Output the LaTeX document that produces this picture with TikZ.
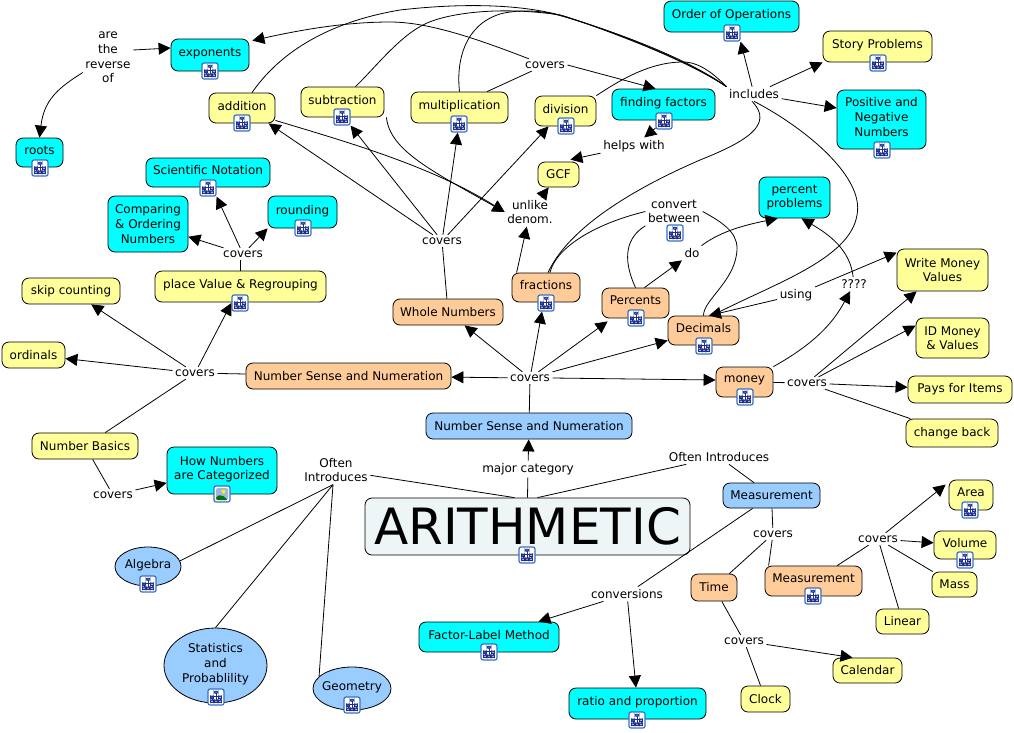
\documentclass[tikz,border=0pt]{standalone}
\usepackage{fontspec}
\setmainfont{DejaVu Sans}
\usetikzlibrary{arrows.meta,shapes.geometric}
\definecolor{cyanc}{HTML}{00FFFF}
\definecolor{yellowc}{HTML}{FFFF99}
\definecolor{orangec}{HTML}{FFCC99}
\definecolor{bluec}{HTML}{99CCFF}
\definecolor{palec}{HTML}{EEF5F7}
\definecolor{iconc}{HTML}{3A6FC4}
\definecolor{treec}{HTML}{1F2F8F}
\tikzset{
    txt/.style = {font=\fontsize{12}{14.6}\selectfont, align=center},
    main/.style 2 args = {txt, draw, rounded corners=7pt, inner sep=0pt, line width=0.8pt, minimum width=#1pt, minimum height=#2pt},
    cy/.style 2 args = {main={#1}{#2}, fill=cyanc},
    ye/.style 2 args = {main={#1}{#2}, fill=yellowc},
    or/.style 2 args = {main={#1}{#2}, fill=orangec},
    bl/.style 2 args = {main={#1}{#2}, fill=bluec},
    oval/.style 2 args = {txt, draw, ellipse, fill=bluec, inner sep=-8pt, line width=0.8pt, minimum width=#1pt, minimum height=#2pt},
    up/.style = {text depth=5pt},
    phrase/.style = {txt, inner sep=2.5pt},
    tree/.style = {draw, rounded corners=2pt, fill=white, draw=iconc, line width=1.2pt, minimum size=16pt, inner sep=0pt,
        path picture={
            \draw[treec, line width=0.7pt] (path picture bounding box.center) ++(0,-4) -- ++(0,8) ++(-4,-5) -- ++(8,0) ++(-8,0) -- ++(0,5) ++(8,-5) -- ++(0,5);
            \draw[treec, fill=iconc, line width=0.6pt] (path picture bounding box.center) ++(-2,-6) rectangle ++(4,2.5);
            \draw[treec, fill=iconc, line width=0.6pt] (path picture bounding box.center) ++(-5.5,-1) rectangle ++(3,2.5);
            \draw[treec, fill=white, line width=0.6pt] (path picture bounding box.center) ++(2.5,-1) rectangle ++(3,2.5);
            \draw[treec, fill=white, line width=0.6pt] (path picture bounding box.center) ++(-5.5,3) rectangle ++(3,2.5);
            \draw[treec, fill=white, line width=0.6pt] (path picture bounding box.center) ++(2.5,3) rectangle ++(3,2.5);
            \draw[treec, fill=orangec, line width=0.6pt] (path picture bounding box.center) ++(-1.5,3) rectangle ++(3,2.5);
        }},
    photo/.style = {draw, rounded corners=2pt, fill=white, draw=iconc, line width=1.2pt, minimum size=16pt, inner sep=0pt,
        path picture={
            \fill[iconc!50] (path picture bounding box.center) ++(-6,-6) rectangle ++(12,12);
            \fill[yellow] (path picture bounding box.center) ++(1.5,-2.5) circle (2);
            \fill[green!45!black] (path picture bounding box.center) ++(-6,6) -- ++(0,-4) -- ++(6,-1) -- ++(6,5) -- cycle;
        }},
    link/.style = {line width=0.8pt},
    arr/.style = {link, -{Triangle[length=12pt,width=12pt]}}
}
\begin{document}
\begin{tikzpicture}[x=1pt, y=-1pt]
        \useasboundingbox (0,0) rectangle (1014,732);

        \node[cy={78}{32},up] (exponents) at (210,55) {exponents};
        \node[ye={66}{30},up] (addition) at (242,108) {addition};
        \node[ye={83}{30},up] (subtraction) at (342.5,102) {subtraction};
        \node[ye={97}{31},up] (multiplication) at (459.5,107.5) {multiplication};
        \node[ye={61}{30},up] (division) at (565.5,111) {division};
        \node[cy={103}{31},up] (factors) at (663.5,104.5) {finding factors};
        \node[cy={135}{31},up] (operations) at (731.5,16.5) {Order of Operations};
        \node[ye={109}{31},up] (story) at (877.5,46.5) {Story Problems};
        \node[cy={89}{59},up] (positive) at (881.5,119.5) {Positive and\\Negative\\Numbers};
        \node[cy={47}{29},up] (roots) at (39.5,152.5) {roots};
        \node[cy={124}{29},up] (scientific) at (208,172.5) {Scientific Notation};
        \node[cy={80}{56}] (comparing) at (148,224) {Comparing\\\& Ordering\\Numbers};
        \node[cy={69}{32},up] (rounding) at (302.5,212) {rounding};
        \node[ye={41}{25}] (gcf) at (558.5,174.5) {GCF};
        \node[cy={71}{41}] (percentprob) at (794.5,197.5) {percent\\problems};
        \node[ye={171}{31},up] (placevalue) at (240.5,286.5) {place Value \& Regrouping};
        \node[ye={98}{26}] (skip) at (71,291) {skip counting};
        \node[ye={63}{26}] (ordinals) at (33.5,355) {ordinals};
        \node[ye={106}{26}] (basics) at (85,446) {Number Basics};
        \node[cy={110}{47},up] (categorized) at (222,470.5) {How Numbers\\are Categorized};

        \node[or={110}{26}] (whole) at (448,312) {Whole Numbers};
        \node[or={68}{29},up] (fractions) at (546,287.5) {fractions};
        \node[or={67}{30},up] (percents) at (635.5,303) {Percents};
        \node[or={71}{29},up] (decimals) at (703.5,330.5) {Decimals};
        \node[or={57}{30},up] (money) at (744.5,382) {money};
        \node[or={205}{26}] (senseorange) at (348.5,376) {Number Sense and Numeration};

        \node[ye={91}{42}] (writemoney) at (942.5,270) {Write Money\\Values};
        \node[ye={73}{40}] (idmoney) at (952.5,338) {ID Money\\\& Values};
        \node[ye={104}{27}] (pays) at (960,389.5) {Pays for Items};
        \node[ye={92}{28}] (changeback) at (952,433) {change back};

        \node[bl={206}{26}] (senseblue) at (529,426) {Number Sense and Numeration};
        \node[main={325}{57}, fill=palec, font=\fontsize{50}{56}\selectfont] (arithmetic) at (527.5,526.5) {ARITHMETIC};
        \node[bl={97}{25}] (measureblue) at (771.5,495.5) {Measurement};
        \node[or={97}{30},up] (measureorange) at (813.5,581) {Measurement};
        \node[or={46}{27}] (time) at (714,587.5) {Time};
        \node[ye={44}{30},up] (area) at (971,495) {Area};
        \node[ye={62}{28},up] (volume) at (965,545) {Volume};
        \node[ye={45}{25}] (mass) at (954.5,584.5) {Mass};
        \node[ye={53}{25}] (linear) at (902.5,621.5) {Linear};
        \node[ye={69}{25}] (calendar) at (867.5,670.5) {Calendar};
        \node[ye={49}{26}] (clock) at (765.5,699) {Clock};
        \node[cy={140}{30},up] (factorlabel) at (489,637) {Factor-Label Method};
        \node[cy={137}{31},up] (ratio) at (637.5,703.5) {ratio and proportion};

        \node[oval={66}{39},up] (algebra) at (148,566.5) {Algebra};
        \node[oval={103}{75},up] (statistics) at (215.5,665.5) {Statistics\\and\\Probablility};
        \node[oval={78}{43},up] (geometry) at (352,688.5) {Geometry};

        \node[tree] (iexponents) at (210,71) {};
        \node[tree] (iaddition) at (242,123) {};
        \node[tree] (isubtraction) at (342,117) {};
        \node[tree] (imultiplication) at (459,124) {};
        \node[tree] (idivision) at (566,126) {};
        \node[tree] (ifactors) at (664,121) {};
        \node[tree] (ioperations) at (732,33) {};
        \node[tree] (istory) at (878,63) {};
        \node[tree] (ipositive) at (882,150) {};
        \node[tree] (iroots) at (40,168) {};
        \node[tree] (iscientific) at (208,188) {};
        \node[tree] (irounding) at (303,228) {};
        \node[tree] (iplacevalue) at (240,303) {};
        \node[tree] (ifractions) at (546,303) {};
        \node[tree] (ipercents) at (636,318) {};
        \node[tree] (idecimals) at (704,346) {};
        \node[tree] (imoney) at (745,397) {};
        \node[tree] (iarithmetic) at (527,555) {};
        \node[tree] (imeasure) at (813,596) {};
        \node[tree] (iarea) at (970,510) {};
        \node[tree] (ivolume) at (965,560) {};
        \node[tree] (ifactorlabel) at (489,652) {};
        \node[tree] (iratio) at (637,720) {};
        \node[tree] (ialgebra) at (148,584) {};
        \node[tree] (istatistics) at (216,697) {};
        \node[tree] (igeometry) at (352,705) {};
        \node[photo] (icategorized) at (222,494) {};

        \node[phrase] (reverse) at (108,57.5) {are\\the\\reverse\\of};
        \node[phrase] (coverstop) at (545,65) {covers};
        \node[phrase] (includes) at (754,94) {includes};
        \node[phrase] (helps) at (634,146) {helps with};
        \node[phrase] (unlike) at (530,212) {unlike\\denom.};
        \node[phrase] (between) at (674,211.5) {convert\\between};
        \node[tree] (ibetween) at (675,233) {};
        \node[phrase] (do) at (692,253) {do};
        \node[phrase] (using) at (796,295) {using};
        \node[phrase] (question) at (854,284) {????};
        \node[phrase] (coversplace) at (243,254) {covers};
        \node[phrase] (coverswhole) at (442,241) {covers};
        \node[phrase] (coversleft) at (195,373) {covers};
        \node[phrase] (coverscenter) at (530,378) {covers};
        \node[phrase] (coversmoney) at (807,383) {covers};
        \node[phrase] (coversbasics) at (113,495) {covers};
        \node[phrase] (oftenleft) at (336,470) {Often\\Introduces};
        \node[phrase] (major) at (528,469) {major category};
        \node[phrase] (oftenright) at (719,457) {Often Introduces};
        \node[phrase] (coversmeasure) at (773,534) {covers};
        \node[phrase] (coversright) at (878,539) {covers};
        \node[phrase] (conversions) at (627,594) {conversions};
        \node[phrase] (coverstime) at (744,641) {covers};

        \draw[arr] (reverse.east |- 0,50) -- (exponents.west |- 0,48);
        \draw[arr] ([yshift=13pt]reverse.south west) .. controls (58,88) and (44,100) .. (roots.north);

        \draw[link] ([xshift=10pt]addition.north) .. controls (285,45) and (340,20) .. (400,10) .. controls (470,2) and (530,5) .. (570,18) .. controls (620,35) and (690,62) .. (includes.north west);
        \draw[link] ([xshift=13pt]subtraction.north) .. controls (375,68) and (400,35) .. (427,23) .. controls (450,13) and (500,6) .. (560,15) .. controls (620,33) and (690,62) .. (includes.north west);
        \draw[link] (multiplication.north) .. controls (456,60) and (465,25) .. (500,14) .. controls (515,10) and (540,9) .. (565,17) .. controls (620,33) and (690,60) .. (includes.north west);
        \draw[link] (division.north east) .. controls (620,80) and (650,62) .. (683,62) .. controls (700,62) and (715,75) .. (includes.north west);
        \draw[link] (includes.255) .. controls (775,125) and (745,142) .. (700,160) .. controls (640,186) and (570,225) .. ([xshift=2pt]fractions.north);
        \draw[link] (includes.south) .. controls (800,125) and (865,175) .. (857,215) .. controls (850,260) and (770,285) .. (decimals.60);
        \draw[arr] (includes) -- (ioperations.south east);
        \draw[arr] (includes) -- (story.south west);
        \draw[arr] (includes) -- (positive.west |- 0,108);

        \draw[link] (multiplication.30) -- (coverstop);
        \draw[arr] (coverstop) .. controls (480,40) and (430,22) .. (390,22) .. controls (345,22) and (300,30) .. ([xshift=3pt,yshift=-2pt]exponents.north east);
        \draw[arr] (coverstop.east) -- ([xshift=-8pt]factors.north);
        \draw[arr] (ifactors) -- (helps);
        \draw[arr] (helps) -- ([xshift=-9pt,yshift=2pt]gcf.north east);

        \draw[link] (whole) -- (coverswhole);
        \draw[arr] (coverswhole) -- (addition.-30);
        \draw[arr] (coverswhole) -- (isubtraction.south east);
        \draw[arr] (coverswhole) -- (imultiplication);
        \draw[arr] (coverswhole) -- ([xshift=-17pt]division.south);

        \draw[arr] ([yshift=3pt]addition.south east) .. controls (340,140) and (430,165) .. (unlike.west);
        \draw[arr] ([xshift=2pt]subtraction.south east) .. controls (390,150) and (430,170) .. (unlike.west);
        \draw[arr] ([xshift=5pt]fractions.north west) -- (unlike);
        \draw[arr] (unlike) -- (gcf);

        \draw[link] ([xshift=4pt]fractions.north) .. controls (555,250) and (590,225) .. (between.west);
        \draw[link] (percents.north) .. controls (625,265) and (622,240) .. (between.south west);
        \draw[link] (decimals.north) .. controls (703,300) and (737,280) .. (737,248) .. controls (737,232) and (722,222) .. (between.east);
        \draw[arr] (percents.60) -- (do);
        \draw[arr] (do) .. controls (722,230) and (750,224) .. ([xshift=19pt]percentprob.south west);
        \draw[arr] (using) -- (decimals.70);
        \draw[arr] (using) -- ([yshift=-4pt]writemoney.north west);
        \draw[arr] (money.north east) .. controls (812,345) and (832,325) .. (question);
        \draw[arr] (question) .. controls (850,250) and (830,235) .. ([xshift=7pt]percentprob.south);

        \draw[link] (senseblue) -- (coverscenter);
        \draw[arr] (coverscenter) -- ([xshift=-4pt]ifractions.south);
        \draw[arr] (coverscenter) -- (whole);
        \draw[arr] (coverscenter) -- (senseorange);
        \draw[arr] (coverscenter) -- ([xshift=6pt,yshift=-3pt]percents.south west);
        \draw[arr] (coverscenter) -- ([yshift=-10pt]decimals.west);
        \draw[arr] (coverscenter.east) -- ([yshift=2pt]money.west);
        \draw[link] (money) -- (coversmoney);
        \draw[arr] (coversmoney) -- ([xshift=20pt]writemoney.south west);
        \draw[arr] (coversmoney) -- ([yshift=-8pt]idmoney.north west);
        \draw[arr] (coversmoney) -- (pays);
        \draw[link] (coversmoney) -- (changeback);

        \draw[link] (placevalue.north |- coversplace.south) -- (placevalue);
        \draw[arr] (coversplace) -- (iscientific.south east);
        \draw[arr] (coversplace) -- (comparing);
        \draw[arr] (coversplace) -- (rounding.south west);

        \draw[link] (senseorange) -- (coversleft);
        \draw[arr] (coversleft) -- (iplacevalue.west);
        \draw[arr] (coversleft) -- (skip);
        \draw[arr] (coversleft) -- (ordinals);
        \draw[link] (basics) -- (coversleft);
        \draw[link] (basics) -- (coversbasics);
        \draw[arr] (coversbasics) -- (categorized);

        \draw[link] (arithmetic.north) ++(-13,0) -- (oftenleft);
        \draw[link] ([xshift=-3pt]oftenleft.south) -- (algebra.10);
        \draw[link] ([xshift=-3pt]oftenleft.south) -- (statistics.north);
        \draw[link] ([xshift=-3pt]oftenleft.south) -- (geometry.160);
        \draw[link] (arithmetic.north) -- (major);
        \draw[arr] (major) -- (senseblue);
        \draw[link] (arithmetic.north) ++(10,0) -- (oftenright);
        \draw[link] (oftenright) -- (measureblue);

        \draw[link] (measureblue) -- (coversmeasure);
        \draw[link] (coversmeasure) -- (time);
        \draw[link] (coversmeasure) -- ([xshift=4pt]measureorange.north west);
        \draw[link] (measureblue) -- (conversions);
        \draw[arr] (conversions) -- (factorlabel);
        \draw[arr] (conversions) -- (ratio);
        \draw[link] (time) -- (coverstime);
        \draw[link] (coverstime) -- (clock);
        \draw[arr] (coverstime) -- ([xshift=-15pt]calendar.north);
        \draw[link] (measureorange) -- (coversright);
        \draw[arr] (coversright) -- ([xshift=-3pt,yshift=-5pt]area.north west);
        \draw[arr] (coversright) -- (volume);
        \draw[link] (coversright) -- (mass);
        \draw[link] (coversright) -- (linear);

    \end{tikzpicture}
\end{document}
